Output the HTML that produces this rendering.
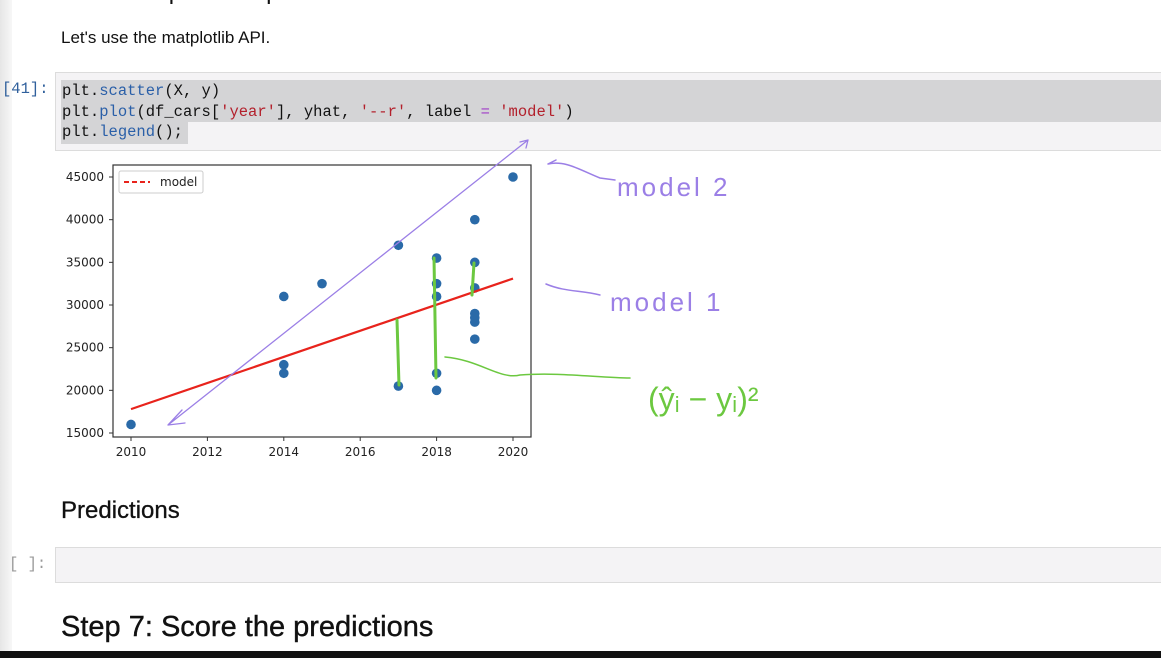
<!DOCTYPE html>
<html><head><meta charset="utf-8">
<style>
html,body{margin:0;padding:0;width:1161px;height:658px;overflow:hidden;background:#fff;font-family:"Liberation Sans",sans-serif;}
.abs{position:absolute;}
.mono{font-family:"Liberation Mono",monospace;font-size:15.5px;}
</style></head>
<body>
<div class="abs" style="left:0;top:0;width:12px;height:651px;background:linear-gradient(90deg,#e6e6e6,#f7f7f7)"></div>
<div class="abs" style="left:62px;top:-22px;font-size:24px;color:#111">Use a simple example here</div>
<div class="abs" style="left:61px;top:28px;font-size:17px;color:#111">Let's use the matplotlib API.</div>
<div class="abs mono" style="left:2px;top:80px;color:#30609c">[41]:</div>
<div class="abs" style="left:55px;top:72px;width:1110px;height:77px;background:#f4f3f5;border:1px solid #dcdcdc"></div>
<div class="abs" style="left:61px;top:80px;width:1100px;height:42px;background:#d4d4d6"></div>
<div class="abs" style="left:61px;top:122px;width:127px;height:22px;background:#d4d4d6"></div>
<div class="abs mono" style="left:62px;top:81px;line-height:20.5px;color:#111;white-space:pre">plt.<span style="color:#2a5fa8">scatter</span>(X, y)
plt.<span style="color:#2a5fa8">plot</span>(df_cars[<span style="color:#b3202c">'year'</span>], yhat, <span style="color:#b3202c">'--r'</span>, label <span style="color:#a03cc8">=</span> <span style="color:#b3202c">'model'</span>)
plt.<span style="color:#2a5fa8">legend</span>();</div>

<svg class="abs" style="left:0;top:0" width="1161" height="658">
<g id="plot"></g>
</svg>

<div class="abs" style="left:61px;top:497px;font-size:24px;color:#111;-webkit-text-stroke:0.3px #111">Predictions</div>
<div class="abs mono" style="left:9px;top:555px;color:#999">[ ]:</div>
<div class="abs" style="left:55px;top:547px;width:1110px;height:34px;background:#f4f3f5;border:1px solid #dcdcdc"></div>
<div class="abs" style="left:61px;top:611px;font-size:29px;color:#111;-webkit-text-stroke:0.4px #111">Step 7: Score the predictions</div>
<div class="abs" style="left:0;top:651px;width:1161px;height:7px;background:#111"></div>

<script>
const xs=[2010,2014,2014,2014,2015,2017,2017,2018,2018,2018,2018,2018,2019,2019,2019,2019,2019,2019,2019,2020];
const ys=[16000,31000,23000,22000,32500,37000,20500,35500,32500,31000,22000,20000,40000,35000,32000,29000,28500,28000,26000,45000];
const modelX=[2010,2020];
const modelY=[17800,33100];
const xTicks=[2010,2012,2014,2016,2018,2020];
const yTicks=[15000,20000,25000,30000,35000,40000,45000];
const NS='http://www.w3.org/2000/svg';
const sx=v=>131+(v-2010)*38.2;
const sy=v=>433-(v-15000)*0.008533;
const g=document.getElementById('plot');
function mk(t,a,p){const e=document.createElementNS(NS,t);for(const k in a)e.setAttribute(k,a[k]);(p||g).appendChild(e);return e;}
const frame=mk('rect',{x:113,y:165,width:418,height:272,fill:'#fff',stroke:'#333','stroke-width':1.2});


xTicks.forEach(t=>{
  const l=mk('line',{x1:sx(t),x2:sx(t),y1:437,y2:441,stroke:'#333'});
  
  
  const tx=mk('text',{x:sx(t),y:456,'text-anchor':'middle','font-size':12,fill:'#222','font-family':'DejaVu Sans, sans-serif'});
  tx.textContent=t;
  
  
});
yTicks.forEach(t=>{
  const l=mk('line',{x1:109,x2:113,y1:sy(t),y2:sy(t),stroke:'#333'});
  
  
  const tx=mk('text',{x:104,y:sy(t)+4,'text-anchor':'end','font-size':12,fill:'#222','font-family':'DejaVu Sans, sans-serif'});
  tx.textContent=t;
  
  
});
xs.forEach((x,i)=>{
  const c=mk('circle',{cx:sx(x),cy:sy(ys[i]),r:4.8,fill:'#2a6aa8'});
  
  
});
const ml=mk('line',{x1:sx(modelX[0]),y1:sy(modelY[0]),x2:sx(modelX[1]),y2:sy(modelY[1]),stroke:'#e8231c','stroke-width':2.2});


const lg=mk('rect',{x:119,y:171,width:84,height:22,fill:'#fff',stroke:'#ccc',rx:2});


mk('line',{x1:124,x2:150,y1:182,y2:182,stroke:'#e8231c','stroke-width':2,'stroke-dasharray':'5,3'});
const lt=mk('text',{x:160,y:186,'font-size':12,fill:'#222','font-family':'DejaVu Sans, sans-serif'});
lt.textContent='model';


const P='#9b7fe6',G='#6cc840';
function path(d,c,w,n){const p=mk('path',{d:d,fill:'none',stroke:c,'stroke-width':w||1.5,'stroke-linecap':'round'});}
path('M168 425 L528 140 M168 425 L182 410 M168 425 L185 423 M528 140 L520 142 M528 140 L526 148',P,1.3,'model2-arrow');
path('M548 164 L556 160 M548 164 C565 160,580 170,600 178 L615 180',P,1.5,'model2-pointer');
path('M546 284 C565 292,580 290,600 295',P,1.5,'model1-pointer');
path('M397 320 L399 385 M434 258 L436 378 M474 263 L472 295',G,3,'residual-lines');
path('M445 357 C480 360,500 380,520 375 C560 372,600 378,630 378',G,1.5,'residual-pointer');
const t1=mk('text',{x:617,y:196,'font-size':26,fill:P,'font-family':'Liberation Sans, sans-serif','letter-spacing':'3'});t1.textContent='model 2';

const t2=mk('text',{x:610,y:311,'font-size':26,fill:P,'font-family':'Liberation Sans, sans-serif','letter-spacing':'3'});t2.textContent='model 1';

const t3=mk('text',{x:648,y:410,'font-size':32,fill:G,'font-family':'Liberation Sans, sans-serif'});t3.textContent='(ŷᵢ − yᵢ)²';

</script>
</body></html>
